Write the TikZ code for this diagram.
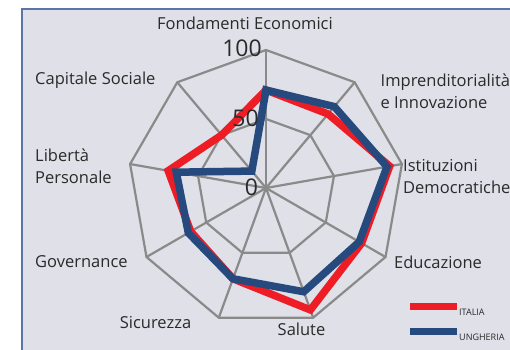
\documentclass[tikz,border=0pt]{standalone}
\usepackage{fontspec}
\setmainfont{Open Sans}
\usetikzlibrary{positioning}

\definecolor{panel}{HTML}{DFE0E8}
\definecolor{frameblue}{HTML}{5B76A6}
\definecolor{gridgray}{HTML}{8A8A8A}
\definecolor{italia}{HTML}{EE1C25}
\definecolor{ungheria}{HTML}{264A7D}
\definecolor{ink}{HTML}{2A2A2A}

\begin{document}
\begin{tikzpicture}[x=1pt,y=1pt,
    grid line/.style={draw=gridgray,line width=2.2pt},
    series/.style={line width=7.5pt,line join=miter},
    axis label/.style={font=\fontsize{16.5}{22}\selectfont,text=ink,inner sep=0pt,align=left},
    scale label/.style={font=\fontsize{23}{23}\selectfont,text=ink,inner sep=0pt},
    key label/.style={font=\fontsize{9}{9}\selectfont,text=ink,inner sep=0pt,anchor=west}]

  \useasboundingbox (-266,-161) rectangle (244,188);
  \fill[panel] (-244,-170) rectangle (250,179);
  \draw[frameblue,line width=1.5pt] (-244,-170) -- (-244,179) -- (250,179);

  % rings and spokes
  \foreach \r in {69,138}
    \draw[grid line] (90:\r) \foreach \i in {1,...,8} { -- (90-40*\i:\r) } -- cycle;
  \foreach \i in {0,...,8}
    \draw[grid line] (0,0) -- (90-40*\i:138);

  % series
  \draw[series,italia] (90:1.38*71)
    \foreach \v [count=\i, evaluate=\v as \rr using 1.38*\v] in {70,91,80,94,70,63,72,50}
      { -- (90-40*\i:\rr) } -- cycle;
  \draw[series,ungheria] (90:1.38*71)
    \foreach \v [count=\i, evaluate=\v as \rr using 1.38*\v] in {77,89,78,80,70,65,66,16}
      { -- (90-40*\i:\rr) } -- cycle;

  % scale
  \node[scale label] (s100) at (-24,140) {100};
  \node[scale label] (s50) at (-20.5,70) {50};
  \node[scale label] (s0) at (-14.5,1) {0};

  % axes
  \node[axis label] (fondamenti) at (-21,165) {Fondamenti Economici};
  \node[axis label,anchor=west] (impresa) at (114.5,97) {Imprenditorialità\\e Innovazione};
  \node[axis label,anchor=west] (istituzioni) at (137,11.5) {Istituzioni\\Democratiche};
  \node[axis label,anchor=west] (educazione) at (128,-74) {Educazione};
  \node[axis label] (salute) at (35.5,-141) {Salute};
  \node[axis label] (sicurezza) at (-110.5,-135) {Sicurezza};
  \node[axis label,anchor=west] (governance) at (-231,-74) {Governance};
  \node[axis label,anchor=west] (liberta) at (-231,22) {Libertà\\Personale};
  \node[axis label,anchor=west] (capitale) at (-231,108) {Capitale Sociale};

  % legend
  \coordinate (italia key) at (191,-118.5);
  \coordinate (ungheria key) at (191,-143.5);
  \draw[italia,line width=7pt] (144,-118.5) -- (italia key);
  \draw[ungheria,line width=7pt] (144,-143.5) -- (ungheria key);
  \node[key label] (italia text) at ([xshift=2,yshift=-5.5]italia key) {ITALIA};
  \node[key label] (ungheria text) at ([xshift=2,yshift=-5.5]ungheria key) {UNGHERIA};
\end{tikzpicture}
\end{document}
